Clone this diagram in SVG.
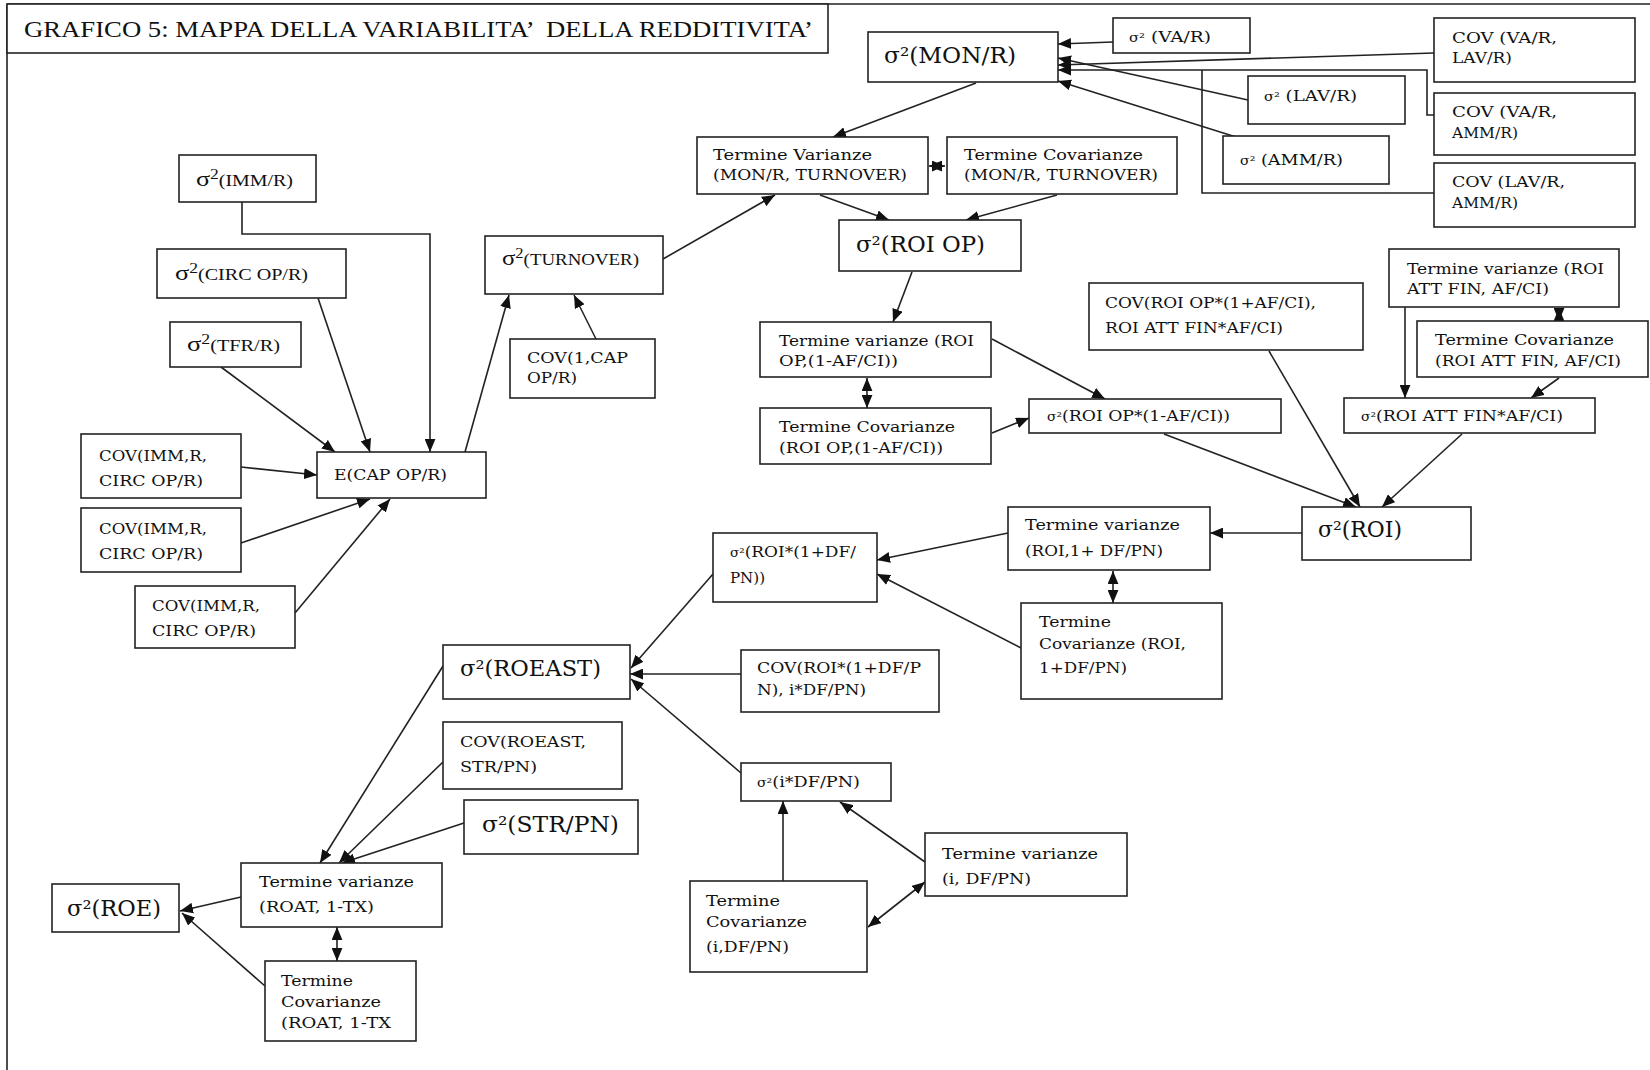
<svg xmlns="http://www.w3.org/2000/svg" width="1650" height="1070" viewBox="0 0 1650 1070">
<style>
.b{fill:#fff;stroke:#222;stroke-width:1.6}
.t{font-family:"DejaVu Serif","Liberation Serif",serif;font-size:15px;fill:#111}
.L{font-family:"DejaVu Serif","Liberation Serif",serif;font-size:22px;fill:#111}
.s{font-family:"Liberation Serif",serif;font-size:16px;fill:#111}
.c path{fill:none;stroke:#222;stroke-width:1.6}
.c .a{marker-end:url(#ah)}
.c .d{marker-start:url(#ah);marker-end:url(#ah)}
</style>
<defs>
<marker id="ah" viewBox="0 0 12 10" refX="12" refY="5" markerWidth="13" markerHeight="11" markerUnits="userSpaceOnUse" orient="auto-start-reverse"><path d="M0,0L12,5L0,10z" fill="#111"/></marker>
</defs>
<rect width="1650" height="1070" fill="#fff"/>
<path d="M7,4H1650M7,4V1070" fill="none" stroke="#222" stroke-width="1.6"/>
<g id="title"><rect class="b" x="7" y="4" width="821" height="49"/><text x="24" y="37" xml:space="preserve" font-family="Liberation Serif, serif" font-size="23" fill="#111" textLength="789" lengthAdjust="spacingAndGlyphs">GRAFICO 5: MAPPA DELLA VARIABILITA’  DELLA REDDITIVITA’</text></g>

<g class="c" id="connectors">
<path class="a" d="M1113,42L1058,44"/>
<path class="a" d="M1248,100L1058,58"/>
<path class="a" d="M1434,53L1058,65"/>
<path class="a" d="M1434,115H1427V70H1058"/>
<path d="M1434,193H1202V70"/>
<path class="a" d="M1236,137L1058,81"/>
<path class="a" d="M976,83L833,137"/>
<path class="d" d="M929,166L945,166"/>
<path class="a" d="M820,195L889,220"/>
<path class="a" d="M1057,195L966,220"/>
<path class="a" d="M663,259L775,195"/>
<path class="a" d="M596,339L574,295"/>
<path class="a" d="M465,452L509,295"/>
<path class="a" d="M242,202V234H430V452"/>
<path class="a" d="M318,298L370,452"/>
<path class="a" d="M221,367L335,452"/>
<path class="a" d="M241,467L317,475"/>
<path class="a" d="M241,543L370,499"/>
<path class="a" d="M295,613L390,499"/>
<path class="a" d="M912,272L893,322"/>
<path class="d" d="M867,378L867,408"/>
<path class="a" d="M992,339L1105,399"/>
<path class="a" d="M992,433L1029,418"/>
<path class="a" d="M1164,434L1356,507"/>
<path class="a" d="M1269,351L1360,507"/>
<path class="a" d="M1462,434L1382,507"/>
<path class="a" d="M1405,307L1405,398"/>
<path class="d" d="M1559,308L1559,321"/>
<path class="a" d="M1559,378L1531,398"/>
<path class="a" d="M1302,533L1210,533"/>
<path class="a" d="M1008,533L877,560"/>
<path class="a" d="M1021,648L877,574"/>
<path class="d" d="M1113,571L1113,603"/>
<path class="a" d="M713,574L631,668"/>
<path class="a" d="M741,674L630,674"/>
<path class="a" d="M741,773L631,679"/>
<path class="a" d="M783,881L783,801"/>
<path class="a" d="M925,862L840,802"/>
<path class="d" d="M925,882L868,927"/>
<path class="a" d="M443,666L320,863"/>
<path class="a" d="M443,762L339,863"/>
<path class="a" d="M464,823L342,863"/>
<path class="a" d="M241,897L180,911"/>
<path class="a" d="M265,986L182,913"/>
<path class="d" d="M337,927L337,961"/>
</g>

<g id="n_monr"><rect class="b" x="868" y="32" width="190" height="50"/><text class="L" x="884" y="63" textLength="132" lengthAdjust="spacingAndGlyphs">σ²(MON/R)</text></g>
<g id="n_var"><rect class="b" x="1113" y="18" width="137" height="35"/><text class="t" x="1129" y="42" textLength="82" lengthAdjust="spacingAndGlyphs"><tspan font-size="12">σ²</tspan> (VA/R)</text></g>
<g id="n_cov_va_lav"><rect class="b" x="1434" y="18" width="201" height="64"/><text class="t" x="1452" y="43" textLength="105" lengthAdjust="spacingAndGlyphs">COV (VA/R,</text><text class="t" x="1452" y="63" textLength="60" lengthAdjust="spacingAndGlyphs">LAV/R)</text></g>
<g id="n_lavr"><rect class="b" x="1248" y="76" width="157" height="48"/><text class="t" x="1264" y="101" textLength="93" lengthAdjust="spacingAndGlyphs"><tspan font-size="12">σ²</tspan> (LAV/R)</text></g>
<g id="n_cov_va_amm"><rect class="b" x="1434" y="93" width="201" height="62"/><text class="t" x="1452" y="117" textLength="105" lengthAdjust="spacingAndGlyphs">COV (VA/R,</text><text class="t" x="1452" y="138" textLength="66" lengthAdjust="spacingAndGlyphs">AMM/R)</text></g>
<g id="n_ammr"><rect class="b" x="1223" y="136" width="166" height="48"/><text class="t" x="1240" y="165" textLength="103" lengthAdjust="spacingAndGlyphs"><tspan font-size="12">σ²</tspan> (AMM/R)</text></g>
<g id="n_cov_lav_amm"><rect class="b" x="1434" y="163" width="201" height="64"/><text class="t" x="1452" y="187" textLength="113" lengthAdjust="spacingAndGlyphs">COV (LAV/R,</text><text class="t" x="1452" y="208" textLength="66" lengthAdjust="spacingAndGlyphs">AMM/R)</text></g>
<g id="n_tv1"><rect class="b" x="697" y="137" width="231" height="57"/><text class="t" x="713" y="160" textLength="159" lengthAdjust="spacingAndGlyphs">Termine Varianze</text><text class="t" x="713" y="180" textLength="194" lengthAdjust="spacingAndGlyphs">(MON/R, TURNOVER)</text></g>
<g id="n_tc1"><rect class="b" x="947" y="137" width="230" height="57"/><text class="t" x="964" y="160" textLength="179" lengthAdjust="spacingAndGlyphs">Termine Covarianze</text><text class="t" x="964" y="180" textLength="194" lengthAdjust="spacingAndGlyphs">(MON/R, TURNOVER)</text></g>
<g id="n_roiop"><rect class="b" x="839" y="220" width="182" height="51"/><text class="L" x="856" y="252" textLength="129" lengthAdjust="spacingAndGlyphs">σ²(ROI OP)</text></g>
<g id="n_immr"><rect class="b" x="179" y="155" width="137" height="47"/><text class="s" x="196" y="186" textLength="97" lengthAdjust="spacingAndGlyphs"><tspan font-size="21">σ</tspan><tspan font-size="14" dy="-7">2</tspan><tspan dy="7">(IMM/R)</tspan></text></g>
<g id="n_circ"><rect class="b" x="157" y="249" width="189" height="49"/><text class="s" x="175" y="280" textLength="133" lengthAdjust="spacingAndGlyphs"><tspan font-size="21">σ</tspan><tspan font-size="14" dy="-7">2</tspan><tspan dy="7">(CIRC OP/R)</tspan></text></g>
<g id="n_tfr"><rect class="b" x="170" y="322" width="131" height="45"/><text class="s" x="187" y="351" textLength="93" lengthAdjust="spacingAndGlyphs"><tspan font-size="21">σ</tspan><tspan font-size="14" dy="-7">2</tspan><tspan dy="7">(TFR/R)</tspan></text></g>
<g id="n_turn"><rect class="b" x="485" y="236" width="178" height="58"/><text class="s" x="502" y="265" textLength="137" lengthAdjust="spacingAndGlyphs"><tspan font-size="21">σ</tspan><tspan font-size="14" dy="-7">2</tspan><tspan dy="7">(TURNOVER)</tspan></text></g>
<g id="n_cov1cap"><rect class="b" x="510" y="339" width="145" height="59"/><text class="t" x="527" y="363" textLength="101" lengthAdjust="spacingAndGlyphs">COV(1,CAP</text><text class="t" x="527" y="383" textLength="50" lengthAdjust="spacingAndGlyphs">OP/R)</text></g>
<g id="n_cov_imm1"><rect class="b" x="81" y="434" width="160" height="64"/><text class="t" x="99" y="461" textLength="108" lengthAdjust="spacingAndGlyphs">COV(IMM,R,</text><text class="t" x="99" y="486" textLength="104" lengthAdjust="spacingAndGlyphs">CIRC OP/R)</text></g>
<g id="n_ecap"><rect class="b" x="317" y="452" width="169" height="46"/><text class="t" x="334" y="480" textLength="113" lengthAdjust="spacingAndGlyphs">E(CAP OP/R)</text></g>
<g id="n_cov_imm2"><rect class="b" x="81" y="508" width="160" height="64"/><text class="t" x="99" y="534" textLength="108" lengthAdjust="spacingAndGlyphs">COV(IMM,R,</text><text class="t" x="99" y="559" textLength="104" lengthAdjust="spacingAndGlyphs">CIRC OP/R)</text></g>
<g id="n_cov_imm3"><rect class="b" x="135" y="586" width="160" height="62"/><text class="t" x="152" y="611" textLength="108" lengthAdjust="spacingAndGlyphs">COV(IMM,R,</text><text class="t" x="152" y="636" textLength="104" lengthAdjust="spacingAndGlyphs">CIRC OP/R)</text></g>
<g id="n_tv2"><rect class="b" x="760" y="322" width="231" height="55"/><text class="t" x="779" y="346" textLength="195" lengthAdjust="spacingAndGlyphs">Termine varianze (ROI</text><text class="t" x="779" y="366" textLength="119" lengthAdjust="spacingAndGlyphs">OP,(1-AF/CI))</text></g>
<g id="n_tc2"><rect class="b" x="760" y="408" width="231" height="56"/><text class="t" x="779" y="432" textLength="176" lengthAdjust="spacingAndGlyphs">Termine Covarianze</text><text class="t" x="779" y="453" textLength="164" lengthAdjust="spacingAndGlyphs">(ROI OP,(1-AF/CI))</text></g>
<g id="n_roiop_af"><rect class="b" x="1029" y="399" width="252" height="34"/><text class="t" x="1047" y="421" textLength="183" lengthAdjust="spacingAndGlyphs"><tspan font-size="12">σ²</tspan>(ROI OP*(1-AF/CI))</text></g>
<g id="n_cov_roiop"><rect class="b" x="1089" y="283" width="274" height="67"/><text class="t" x="1105" y="308" textLength="211" lengthAdjust="spacingAndGlyphs">COV(ROI OP*(1+AF/CI),</text><text class="t" x="1105" y="333" textLength="178" lengthAdjust="spacingAndGlyphs">ROI ATT FIN*AF/CI)</text></g>
<g id="n_tv3"><rect class="b" x="1389" y="249" width="230" height="58"/><text class="t" x="1407" y="274" textLength="197" lengthAdjust="spacingAndGlyphs">Termine varianze (ROI</text><text class="t" x="1407" y="294" textLength="142" lengthAdjust="spacingAndGlyphs">ATT FIN, AF/CI)</text></g>
<g id="n_tc3"><rect class="b" x="1417" y="321" width="231" height="56"/><text class="t" x="1435" y="345" textLength="179" lengthAdjust="spacingAndGlyphs">Termine Covarianze</text><text class="t" x="1435" y="366" textLength="186" lengthAdjust="spacingAndGlyphs">(ROI ATT FIN, AF/CI)</text></g>
<g id="n_attfin"><rect class="b" x="1344" y="398" width="251" height="35"/><text class="t" x="1361" y="421" textLength="202" lengthAdjust="spacingAndGlyphs"><tspan font-size="12">σ²</tspan>(ROI ATT FIN*AF/CI)</text></g>
<g id="n_roi"><rect class="b" x="1302" y="507" width="169" height="53"/><text class="L" x="1318" y="537" textLength="84" lengthAdjust="spacingAndGlyphs">σ²(ROI)</text></g>
<g id="n_tv4"><rect class="b" x="1008" y="507" width="202" height="63"/><text class="t" x="1025" y="530" textLength="155" lengthAdjust="spacingAndGlyphs">Termine varianze</text><text class="t" x="1025" y="556" textLength="138" lengthAdjust="spacingAndGlyphs">(ROI,1+ DF/PN)</text></g>
<g id="n_tc4"><rect class="b" x="1021" y="603" width="201" height="96"/><text class="t" x="1039" y="627" textLength="72" lengthAdjust="spacingAndGlyphs">Termine</text><text class="t" x="1039" y="649" textLength="147" lengthAdjust="spacingAndGlyphs">Covarianze (ROI,</text><text class="t" x="1039" y="673" textLength="88" lengthAdjust="spacingAndGlyphs">1+DF/PN)</text></g>
<g id="n_roidf"><rect class="b" x="713" y="533" width="164" height="69"/><text class="t" x="730" y="557" textLength="126" lengthAdjust="spacingAndGlyphs"><tspan font-size="12">σ²</tspan>(ROI*(1+DF/</text><text class="t" x="730" y="583" textLength="35" lengthAdjust="spacingAndGlyphs">PN))</text></g>
<g id="n_covroidf"><rect class="b" x="741" y="650" width="198" height="62"/><text class="t" x="757" y="673" textLength="164" lengthAdjust="spacingAndGlyphs">COV(ROI*(1+DF/P</text><text class="t" x="757" y="695" textLength="109" lengthAdjust="spacingAndGlyphs">N), i*DF/PN)</text></g>
<g id="n_roeast"><rect class="b" x="443" y="645" width="187" height="54"/><text class="L" x="460" y="676" textLength="141" lengthAdjust="spacingAndGlyphs">σ²(ROEAST)</text></g>
<g id="n_covroeast"><rect class="b" x="443" y="722" width="179" height="67"/><text class="t" x="460" y="747" textLength="126" lengthAdjust="spacingAndGlyphs">COV(ROEAST,</text><text class="t" x="460" y="772" textLength="77" lengthAdjust="spacingAndGlyphs">STR/PN)</text></g>
<g id="n_strpn"><rect class="b" x="464" y="800" width="174" height="54"/><text class="L" x="482" y="832" textLength="137" lengthAdjust="spacingAndGlyphs">σ²(STR/PN)</text></g>
<g id="n_idf"><rect class="b" x="741" y="763" width="150" height="38"/><text class="t" x="757" y="787" textLength="103" lengthAdjust="spacingAndGlyphs"><tspan font-size="12">σ²</tspan>(i*DF/PN)</text></g>
<g id="n_tv6"><rect class="b" x="925" y="833" width="202" height="63"/><text class="t" x="942" y="859" textLength="156" lengthAdjust="spacingAndGlyphs">Termine varianze</text><text class="t" x="942" y="884" textLength="89" lengthAdjust="spacingAndGlyphs">(i, DF/PN)</text></g>
<g id="n_tc6"><rect class="b" x="690" y="881" width="177" height="91"/><text class="t" x="706" y="906" textLength="74" lengthAdjust="spacingAndGlyphs">Termine</text><text class="t" x="706" y="927" textLength="101" lengthAdjust="spacingAndGlyphs">Covarianze</text><text class="t" x="706" y="952" textLength="83" lengthAdjust="spacingAndGlyphs">(i,DF/PN)</text></g>
<g id="n_tv5"><rect class="b" x="241" y="863" width="201" height="64"/><text class="t" x="259" y="887" textLength="155" lengthAdjust="spacingAndGlyphs">Termine varianze</text><text class="t" x="259" y="912" textLength="115" lengthAdjust="spacingAndGlyphs">(ROAT, 1-TX)</text></g>
<g id="n_roe"><rect class="b" x="52" y="884" width="127" height="48"/><text class="L" x="67" y="916" textLength="94" lengthAdjust="spacingAndGlyphs">σ²(ROE)</text></g>
<g id="n_tc5"><rect class="b" x="265" y="961" width="151" height="80"/><text class="t" x="281" y="986" textLength="72" lengthAdjust="spacingAndGlyphs">Termine</text><text class="t" x="281" y="1007" textLength="100" lengthAdjust="spacingAndGlyphs">Covarianze</text><text class="t" x="281" y="1028" textLength="110" lengthAdjust="spacingAndGlyphs">(ROAT, 1-TX</text></g>
</svg>
